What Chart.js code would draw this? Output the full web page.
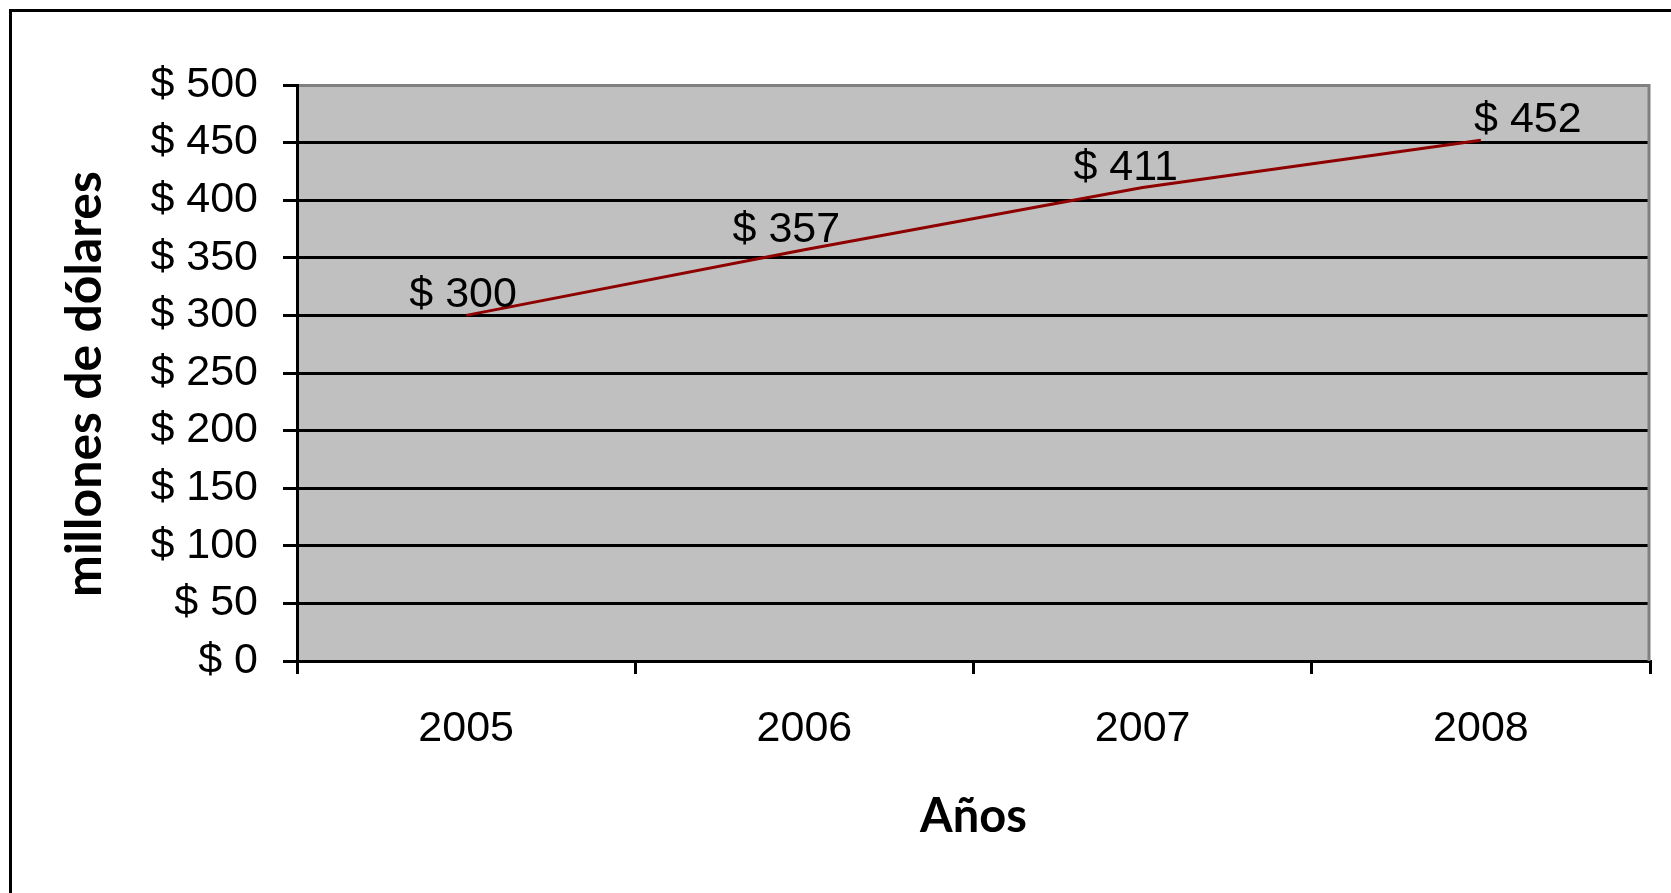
<!DOCTYPE html>
<html>
<head>
<meta charset="utf-8">
<script src="https://cdn.jsdelivr.net/npm/chart.js@4.4.0/dist/chart.umd.min.js"></script>
<style>
    html, body { margin: 0; padding: 0; background: #fff; overflow: hidden; }
    #frame { position: absolute; left: 9px; top: 9px; width: 2000px; height: 2000px; border: 3px solid #000; }
    #chart { position: absolute; left: 0; top: 0; }
</style>
</head>
<body>
<div id="frame"></div>
<canvas id="chart" width="1671" height="893"></canvas>
<script>
// Datos de la grafica
const years = ['2005', '2006', '2007', '2008'];
const ventas = [300, 357, 411, 452];
const yTickValues = [0, 50, 100, 150, 200, 250, 300, 350, 400, 450, 500];

// fondo gris del area y borde derecho
const plotArea = {
    id: 'plotArea',
    beforeDraw(chart) {
        const a = chart.chartArea;
        const ctx = chart.ctx;
        ctx.save();
        ctx.fillStyle = '#c0c0c0';
        ctx.fillRect(a.left, a.top, a.right - a.left, a.bottom - a.top);
        ctx.restore();
    },
    afterDatasetsDraw(chart) {
        const a = chart.chartArea;
        const ctx = chart.ctx;
        ctx.save();
        ctx.strokeStyle = '#808080';
        ctx.lineWidth = 3;
        ctx.beginPath();
        ctx.moveTo(a.right - 1, a.top - 1);
        ctx.lineTo(a.right - 1, a.bottom);
        ctx.stroke();
        ctx.restore();
    }
};

// titulo vertical del eje y
const yTitle = {
    id: 'yTitle',
    afterDraw(chart, args, opts) {
        const a = chart.chartArea;
        const ctx = chart.ctx;
        ctx.save();
        ctx.font = 'bold 50px Lato, sans-serif';
        ctx.fillStyle = '#000';
        ctx.textAlign = 'center';
        ctx.textBaseline = 'alphabetic';
        ctx.translate(opts.x, (a.top + a.bottom) / 2 + opts.dy);
        ctx.rotate(-Math.PI / 2);
        ctx.fillText(opts.text, 0, 0);
        ctx.restore();
    }
};

// etiquetas de valor sobre cada punto
const valueLabels = {
    id: 'valueLabels',
    afterDatasetsDraw(chart, args, opts) {
        const ctx = chart.ctx;
        const meta = chart.getDatasetMeta(0);
        ctx.save();
        ctx.font = '43px "Liberation Sans", Arial, sans-serif';
        ctx.fillStyle = '#000';
        ctx.textAlign = 'center';
        ctx.textBaseline = 'alphabetic';
        meta.data.forEach(function(pt, i) {
            const v = chart.data.datasets[0].data[i];
            ctx.fillText('$ ' + v, pt.x + (opts.shift[i] || 0), pt.y - opts.lift);
        });
        ctx.restore();
    }
};

new Chart(document.getElementById('chart').getContext('2d'), {
    type: 'line',
    data: {
        labels: years,
        datasets: [{
            data: ventas,
            borderColor: '#8f0000',
            borderWidth: 3,
            pointRadius: 0,
            tension: 0,
            fill: false
        }]
    },
    options: {
        responsive: false,
        animation: false,
        layout: { padding: { left: 0, right: 21, top: 85, bottom: 0 } },
        plugins: {
            legend: { display: false },
            tooltip: { enabled: false },
            valueLabels: { shift: [-3, -18, -17, 47], lift: 8 },
            yTitle: { text: 'millones de dólares', x: 101, dy: 11 }
        },
        scales: {
            x: {
                type: 'category',
                offset: true,
                afterFit: function(scale) { scale.height = 232; },
                grid: {
                    offset: true,
                    drawOnChartArea: false,
                    drawTicks: true,
                    tickLength: 13,
                    tickColor: '#000',
                    tickWidth: 3,
                    lineWidth: 3
                },
                border: { color: '#000', width: 3 },
                ticks: {
                    color: '#000',
                    padding: 29,
                    font: { family: '"Liberation Sans", Arial, sans-serif', size: 43 }
                },
                title: {
                    display: true,
                    text: 'Años',
                    color: '#000',
                    padding: { top: 0, bottom: 48 },
                    font: { family: 'Lato, sans-serif', size: 47, weight: 'bold' }
                }
            },
            y: {
                min: 0,
                max: 500,
                afterFit: function(scale) { scale.width = 297; },
                afterBuildTicks: function(scale) {
                    scale.ticks = yTickValues.map(function(v) { return { value: v }; });
                },
                grid: {
                    color: function(ctx) { return ctx.tick && ctx.tick.value === 500 ? '#808080' : '#000'; },
                    lineWidth: 3,
                    tickLength: 14,
                    tickColor: '#000',
                    tickWidth: 3
                },
                border: { color: '#000', width: 3 },
                ticks: {
                    color: '#000',
                    padding: 25,
                    font: { family: '"Liberation Sans", Arial, sans-serif', size: 43 },
                    callback: function(v) { return '$ ' + v; }
                }
            }
        }
    },
    plugins: [plotArea, valueLabels, yTitle]
});
</script>
</body>
</html>
